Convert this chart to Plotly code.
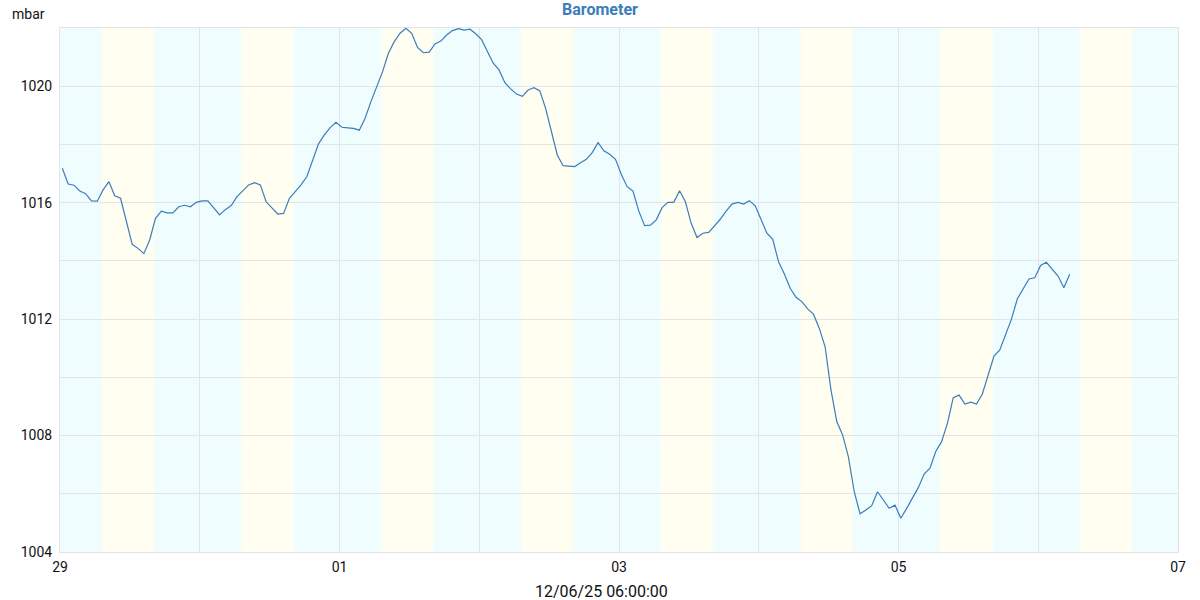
import pandas as pd
import plotly.graph_objects as go

# ---- data -------------------------------------------------------------
start_time = "2025-11-29 00:24"
pressure_mbar = [
    1017.18, 1016.64, 1016.60, 1016.40, 1016.31, 1016.06, 1016.05, 1016.44, 1016.72, 1016.24,
    1016.15, 1015.35, 1014.57, 1014.43, 1014.25, 1014.72, 1015.46, 1015.71, 1015.65, 1015.65,
    1015.86, 1015.91, 1015.86, 1016.01, 1016.06, 1016.06, 1015.81, 1015.58, 1015.76, 1015.90,
    1016.21, 1016.41, 1016.61, 1016.69, 1016.61, 1016.03, 1015.81, 1015.61, 1015.63, 1016.15,
    1016.38, 1016.61, 1016.90, 1017.47, 1018.02, 1018.33, 1018.58, 1018.76, 1018.59, 1018.57,
    1018.55, 1018.49, 1018.90, 1019.47, 1019.98, 1020.50, 1021.13, 1021.53, 1021.82, 1021.99,
    1021.82, 1021.33, 1021.15, 1021.17, 1021.45, 1021.55, 1021.76, 1021.91, 1021.98, 1021.93,
    1021.96, 1021.80, 1021.60, 1021.21, 1020.79, 1020.56, 1020.12, 1019.91, 1019.73, 1019.65,
    1019.87, 1019.95, 1019.84, 1019.24, 1018.44, 1017.64, 1017.27, 1017.26, 1017.24, 1017.37,
    1017.49, 1017.72, 1018.06, 1017.78, 1017.66, 1017.49, 1016.97, 1016.55, 1016.40, 1015.71,
    1015.21, 1015.23, 1015.41, 1015.83, 1016.01, 1016.01, 1016.41, 1016.03, 1015.29, 1014.80,
    1014.95, 1014.98, 1015.21, 1015.43, 1015.71, 1015.95, 1016.01, 1015.95, 1016.07, 1015.89,
    1015.42, 1014.95, 1014.74, 1013.97, 1013.55, 1013.06, 1012.75, 1012.60, 1012.35, 1012.17,
    1011.68, 1011.05, 1009.57, 1008.48, 1008.02, 1007.27, 1006.07, 1005.31, 1005.44, 1005.59,
    1006.07, 1005.79, 1005.50, 1005.61, 1005.16, 1005.50, 1005.84, 1006.21, 1006.68, 1006.88,
    1007.45, 1007.79, 1008.42, 1009.30, 1009.39, 1009.08, 1009.15, 1009.08, 1009.43, 1010.08,
    1010.73, 1010.94, 1011.45, 1012.00, 1012.69, 1013.02, 1013.38, 1013.42, 1013.84, 1013.95,
    1013.72, 1013.48, 1013.08, 1013.54,
]
days = ["2025-11-29", "2025-11-30", "2025-12-01", "2025-12-02",
        "2025-12-03", "2025-12-04", "2025-12-05", "2025-12-06"]
sunrise = ["07:22"] * 8
sunset = ["15:58"] * 8
title_text = "Barometer"
unit_text = "mbar"
footer_text = "12/06/25 06:00:00"
x_range = ["2025-11-29 00:00", "2025-12-07 00:00"]
y_range = [1004, 1022]

times = pd.date_range(start_time, periods=len(pressure_mbar), freq="h")

# ---- figure -----------------------------------------------------------
NIGHT = "#EFFDFF"
DAY = "#FFFEF0"
EDGE = "#F7FEF7"

fig = go.Figure()
fig.add_trace(go.Scatter(
    x=times, y=pressure_mbar, mode="lines",
    line=dict(color="#3B7DBA", width=1.2),
    hoverinfo="x+y", showlegend=False,
))

shapes = []
shapes.append(dict(type="rect", xref="x", yref="paper",
                   x0=x_range[0], x1=x_range[1], y0=0, y1=1,
                   fillcolor=NIGHT, line=dict(width=0), layer="below"))
edge = pd.Timedelta(minutes=25)
for d, sr, ss in zip(days, sunrise, sunset):
    t0 = pd.Timestamp(f"{d} {sr}")
    t1 = pd.Timestamp(f"{d} {ss}")
    shapes.append(dict(type="rect", xref="x", yref="paper",
                       x0=t0 - edge, x1=t1 + edge, y0=0, y1=1,
                       fillcolor=EDGE, line=dict(width=0), layer="below"))
    shapes.append(dict(type="rect", xref="x", yref="paper",
                       x0=t0, x1=t1, y0=0, y1=1,
                       fillcolor=DAY, line=dict(width=0), layer="below"))

GRID = "#E4E4E8"
fig.update_layout(
    width=1200, height=600,
    margin=dict(l=60, r=22, t=28, b=48),
    paper_bgcolor="white", plot_bgcolor="white",
    font=dict(family="Roboto, sans-serif", size=14, color="#111111"),
    shapes=shapes,
    title=dict(text=f"<b>{title_text}</b>", x=0.5, xanchor="center",
               y=0.993, yanchor="top",
               font=dict(size=16, color="#3B7DBA")),
    annotations=[
        dict(text=unit_text, xref="paper", yref="paper", x=-0.045, y=1.0,
             xanchor="left", yanchor="bottom", yshift=4, showarrow=False,
             font=dict(size=14, color="#111111")),
        dict(text=footer_text, xref="paper", yref="paper", x=0.484, y=0,
             xanchor="center", yanchor="top", yshift=-28, showarrow=False,
             font=dict(size=16, color="#111111")),
    ],
    hovermode="closest",
)
fig.update_xaxes(
    type="date", range=x_range,
    dtick=2 * 86400000, tick0="2025-11-29", tickformat="%d",
    showgrid=True, gridcolor=GRID, gridwidth=1,
    minor=dict(dtick=86400000, showgrid=True, gridcolor=GRID, gridwidth=1),
    showline=True, linecolor=GRID, mirror=True,
    ticks="", ticklabelstandoff=2, zeroline=False,
)
fig.update_yaxes(
    range=y_range, dtick=4, tick0=1004,
    showgrid=True, gridcolor=GRID, gridwidth=1,
    minor=dict(dtick=2, showgrid=True, gridcolor=GRID, gridwidth=1),
    showline=True, linecolor=GRID, mirror=True,
    ticks="", ticklabelstandoff=4, zeroline=False,
)

fig.write_html(
    "out.html",
    config={"displayModeBar": False},
    post_script="document.body.style.margin='0';document.body.style.padding='0';"
                "document.body.style.overflow='hidden';",
)
